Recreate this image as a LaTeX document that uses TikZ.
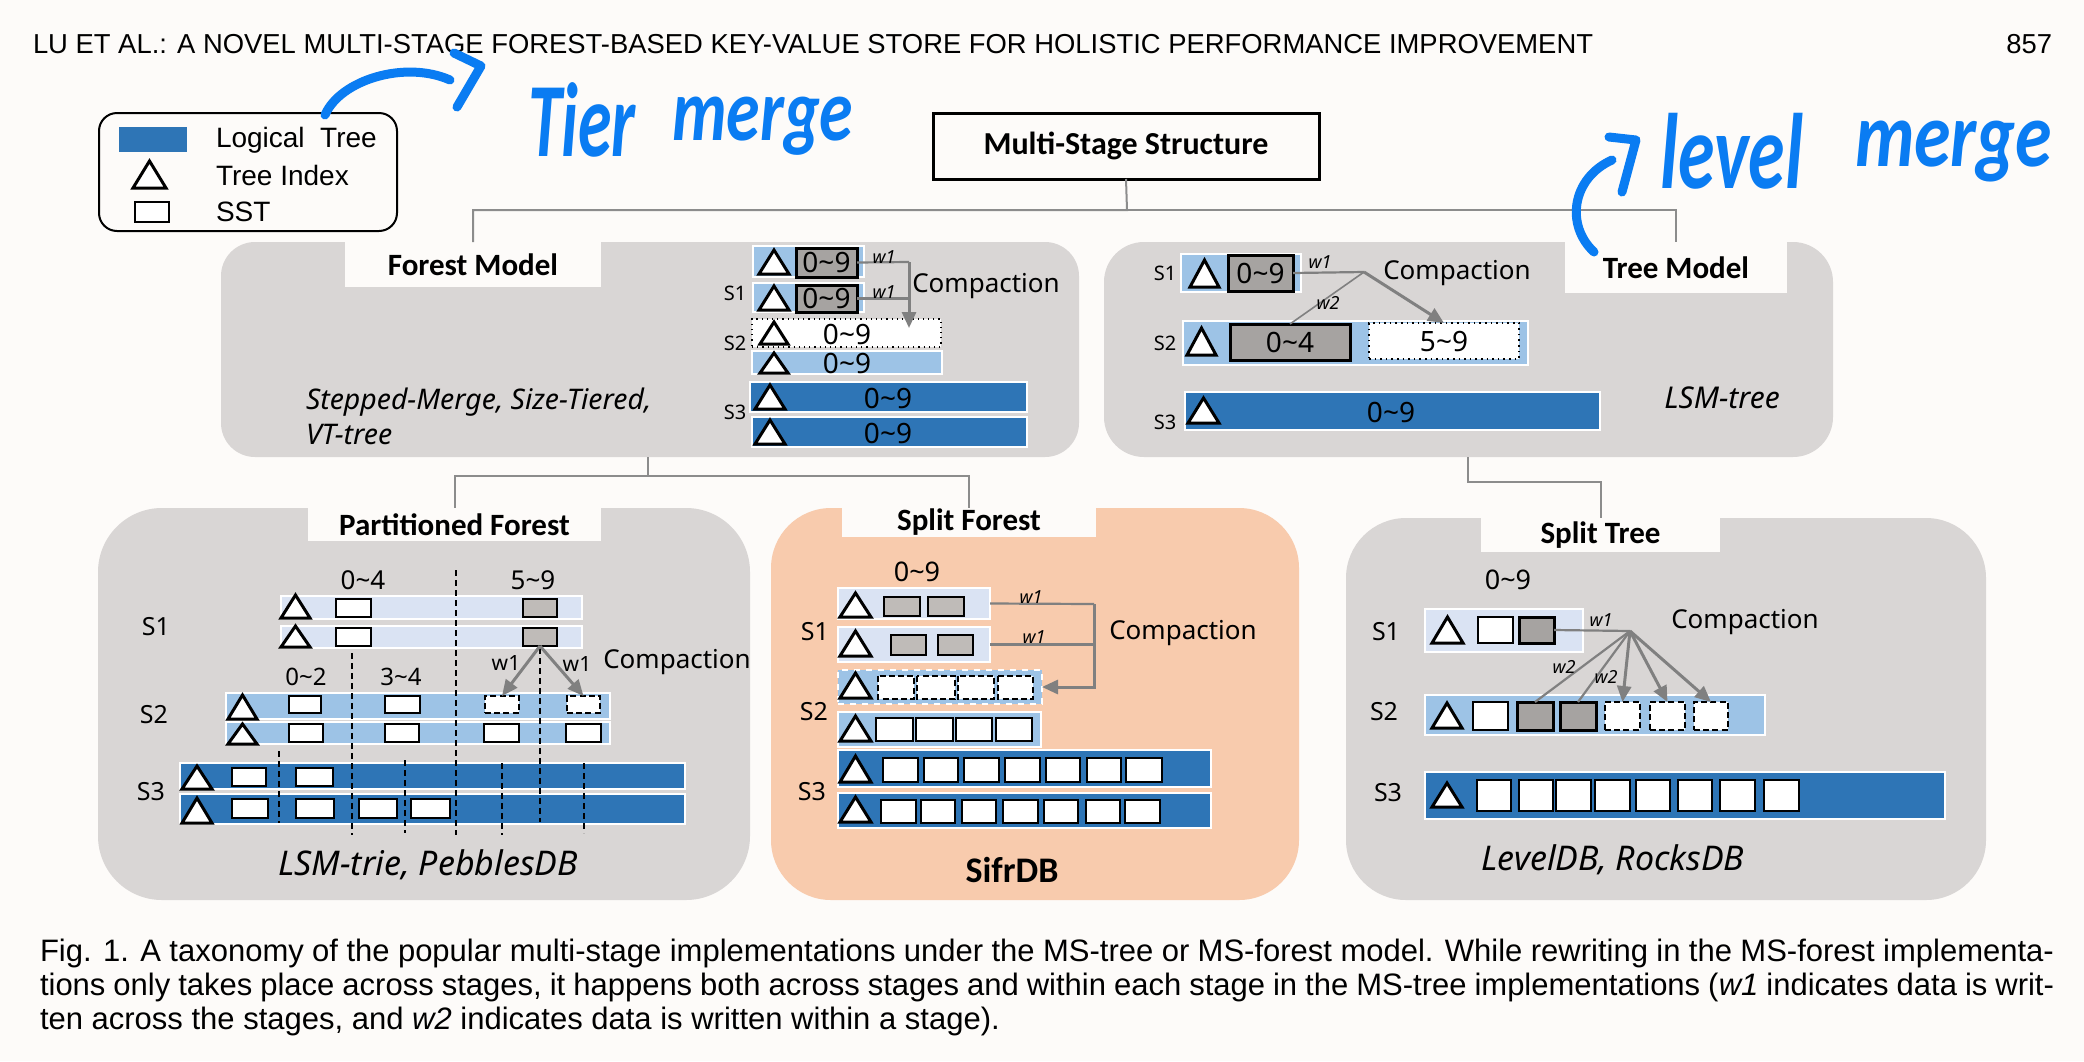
\documentclass[tikz,border=0pt]{standalone}
\usepackage{fontspec}
\usetikzlibrary{arrows.meta}
\setmainfont{Noto Sans}
\newfontfamily\ttlfont{Carlito}
\newfontfamily\hdrfont{Liberation Sans}
\newfontfamily\capfont{Liberation Sans}
\newcommand\setfs[1]{\fontsize{#1pt}{#1pt}\selectfont}
\newcommand\rng[2]{#1\textasciitilde#2}
\definecolor{pagebg}{HTML}{FDFBF9}
\definecolor{panelc}{HTML}{D9D6D5}
\definecolor{peach}{HTML}{F8CBAD}
\definecolor{blueL}{HTML}{DAE3F3}
\definecolor{blueM}{HTML}{9DC3E6}
\definecolor{blueD}{HTML}{2E75B6}
\definecolor{grayA}{HTML}{A6A3A1}
\definecolor{grayB}{HTML}{BFBBB8}
\definecolor{conncol}{HTML}{8C8C8C}
\definecolor{arrc}{HTML}{808080}
\definecolor{hand}{HTML}{0A7CF2}
\newcommand\rbox[5]{\draw[#1] (#2,#3) rectangle (#4,#5);}
\newcommand\tri[4]{\draw[trist] (#1,#2) -- ({(#1+#3)/2},#4) -- (#3,#2) -- cycle;}
\newcommand\bx[7]{\node[nbox,#1,minimum width={(#4-#2)*0.5pt},minimum height={(#5-#3)*0.5pt}] (#6) at ({(#2+#4)/2},{(#3+#5)/2}) {#7};}
\tikzset{
  nbox/.style={inner sep=0pt,outer sep=0pt},
  panelst/.style={fill=panelc,draw=none},
  labelst/.style={fill=pagebg,draw=none,font=\ttlfont\bfseries\setfs{15.5}},
  barL/.style={fill=blueL,draw=white,line width=1.2pt},
  barM/.style={fill=blueM,draw=white,line width=1.2pt},
  barD/.style={fill=blueD,draw=white,line width=1.2pt},
  trist/.style={draw=black,fill=white,line width=1.5pt,line join=miter},
  sstW/.style={draw=black,fill=white,line width=1.4pt},
  sstG/.style={draw=black,fill=grayA,line width=1.5pt},
  sstGB/.style={draw=black,fill=grayB,line width=1.4pt},
  sstD/.style={draw=black,fill=white,line width=1.4pt,dash pattern=on 3pt off 1.6pt},
  conn/.style={draw=conncol,line width=1pt},
  gline/.style={draw=arrc,line width=1.1pt},
  arr/.style={draw=arrc,line width=1.5pt,-{Triangle[length=8pt,width=7pt]}},
  lbl/.style={inner sep=0pt,outer sep=0pt},
  sta/.style={lbl,font=\setfs{10}},
  stb/.style={lbl,font=\setfs{12.5}},
  num/.style={lbl,font=\setfs{14}},
  numb/.style={lbl,font=\setfs{13}},
  wlab/.style={lbl,font=\itshape\setfs{9}},
  comp/.style={lbl,font=\setfs{13}},
  impl/.style={lbl,font=\itshape\setfs{17}},
  pdash/.style={draw=black,line width=0.6pt,dash pattern=on 3pt off 2pt},
  handst/.style={draw=hand,line width=4.5pt,line cap=round,line join=round},
  handtx/.style={lbl,anchor=base west,text=hand,font=\ttlfont\bfseries\itshape\setfs{34}},
  legtx/.style={lbl,anchor=west,font=\hdrfont\setfs{14}},
  captx/.style={lbl,anchor=base west,font=\capfont\setfs{15.5}}
}
\begin{document}
\begin{tikzpicture}[x=0.5pt,y=-0.5pt]
\fill[pagebg] (0,0) rectangle (2084,1061);
\useasboundingbox (0,0) rectangle (2084,1061);

% header
\node[lbl,anchor=base west,font=\hdrfont\setfs{13.7}] (hdr) at (33,53) {LU ET AL.: A NOVEL MULTI-STAGE FOREST-BASED KEY-VALUE STORE FOR HOLISTIC PERFORMANCE IMPROVEMENT};
\node[lbl,anchor=base east,font=\hdrfont\setfs{13.7}] (pg) at (2052,53) {857};

% legend
\bx{draw=black,line width=1pt,rounded corners=9pt,fill=pagebg}{99}{113}{397}{231}{leg}{}
\rbox{fill=blueD,draw=none}{119}{127}{187}{152}
\node[legtx] (l1) at (216,140) {Logical\ \ Tree};
\tri{133}{188}{166}{161}
\node[legtx] (l2) at (216,175) {Tree Index};
\rbox{sstW}{135}{202}{169}{222}
\node[legtx] (l3) at (216,212) {SST};

% root
\bx{draw=black,line width=1.5pt,fill=pagebg,font=\ttlfont\bfseries\setfs{16}}{933}{113}{1319}{179}{ms}{Multi-Stage Structure}

% panels
\bx{panelst,rounded corners=17pt}{221}{242}{1079}{457}{fm}{}
\bx{labelst}{345}{242}{601}{287}{fmlab}{Forest Model}
\bx{panelst,rounded corners=20pt}{1104}{242}{1833}{457}{tm}{}
\bx{labelst}{1565}{242}{1787}{293}{tmlab}{Tree Model}
\bx{panelst,rounded corners=32pt}{98}{508}{750}{900}{pf}{}
\bx{labelst}{308}{508}{601}{541}{pflab}{Partitioned Forest}
\bx{fill=peach,rounded corners=30pt}{771}{508}{1299}{900}{sf}{}
\bx{labelst}{842}{508}{1096}{537}{sflab}{Split Forest}
\bx{panelst,rounded corners=30pt}{1346}{518}{1986}{900}{st}{}
\bx{labelst}{1481}{518}{1720}{552}{stlab}{Split Tree}

% tree connectors
\coordinate (msj) at (1127,210);
\draw[conn] (ms.south) -- (msj) -| (fmlab.north);
\draw[conn] (msj) -| (tmlab.north);
\coordinate (fmb) at (648,457);
\draw[conn] (fmb) -- ++(0,19) coordinate (fmj) -| (pflab.north);
\draw[conn] (fmj) -| (sflab.north);
\coordinate (tmb) at (1468,457);
\draw[conn] (tmb) -- ++(0,25) -| (stlab.north);

% ---------- Forest Model ----------
\rbox{barM}{753}{246}{864}{277}
\tri{759}{274}{789}{250}
\bx{sstG,font=\setfs{14}}{796}{248}{857}{277}{fs1a}{\rng09}
\rbox{barM}{753}{283}{864}{312}
\tri{759}{310}{789}{286}
\bx{sstG,font=\setfs{14}}{796}{285}{857}{312}{fs1b}{\rng09}
\node[sta] (fS1) at (735,293) {S1};
\bx{fill=white,draw=black,line width=0.6pt,dotted}{752}{319}{941}{347}{fs2a}{}
\tri{760}{344}{788}{322}
\node[num] (fs2at) at (847,334) {\rng09};
\rbox{barM}{752}{351}{942}{374}
\tri{760}{373}{788}{353}
\node[num] (fs2bt) at (847,363) {\rng09};
\node[sta] (fS2) at (735,343) {S2};
\rbox{barD}{750}{382}{1027}{412}
\tri{755}{409}{785}{385}
\node[num] (fs3at) at (888,398) {\rng09};
\rbox{barD}{752}{417}{1027}{447}
\tri{755}{444}{785}{420}
\node[num] (fs3bt) at (888,433) {\rng09};
\node[sta] (fS3) at (735,412) {S3};
\coordinate (fj) at (909,262);
\coordinate (fa) at (909,328);
\draw[gline] (fs1a.east) -- (fj);
\draw[gline] (fs1b.east) -- (fs1b.east -| fj);
\draw[arr] (fj) -- (fa);
\node[wlab] (fw1a) at (884,257) {w1};
\node[wlab] (fw1b) at (884,292) {w1};
\node[comp] (fcomp) at (986,286) {Compaction};
\node[lbl,anchor=west,font=\itshape\setfs{14.2}] (fimp1) at (306,402) {Stepped-Merge, Size-Tiered,};
\node[lbl,anchor=west,font=\itshape\setfs{14.2}] (fimp2) at (306,434) {VT-tree};

% ---------- Tree Model ----------
\rbox{barM}{1181}{254}{1301}{292}
\tri{1190}{287}{1219}{260}
\bx{sstG,font=\setfs{14}}{1228}{255}{1293}{291}{ts1}{\rng09}
\node[sta] (tS1) at (1165,273) {S1};
\rbox{barM}{1183}{321}{1528}{365}
\tri{1187}{355}{1216}{328}
\bx{sstG,font=\setfs{14}}{1230}{324}{1350}{360}{ts2a}{\rng04}
\bx{fill=white,draw=black,line width=0.8pt,dotted,font=\setfs{14}}{1369}{323}{1519}{359}{ts2b}{\rng59}
\node[sta] (tS2) at (1165,343) {S2};
\rbox{barD}{1185}{392}{1600}{430}
\tri{1188}{423}{1219}{398}
\node[num] (ts3t) at (1391,412) {\rng09};
\node[sta] (tS3) at (1165,422) {S3};
\coordinate (tj) at (1364,272);
\draw[gline] (ts1.east) -- (tj);
\draw[gline,line width=0.8pt] (tj) -- (ts2a.north);
\draw[arr] (tj) -- (ts2b.north);
\node[wlab] (tw1) at (1320,262) {w1};
\node[wlab] (tw2) at (1328,303) {w2};
\node[comp] (tcomp) at (1457,273) {Compaction};
\node[lbl,font=\itshape\setfs{15}] (timp) at (1722,398) {LSM-tree};

% ---------- Partitioned Forest ----------
\node[numb] (p04) at (363,580) {\rng04};
\node[numb] (p59) at (533,580) {\rng59};
\rbox{barL}{281}{596}{582}{619}
\rbox{barL}{281}{626}{582}{648}
\rbox{barM}{226}{693}{610}{719}
\rbox{barM}{226}{722}{610}{744}
\rbox{barD}{180}{763}{685}{789}
\rbox{barD}{180}{794}{685}{824}
\draw[pdash] (456,570) -- (456,835);
\draw[pdash] (352,653) -- (352,835);
\draw[pdash] (540,648) -- (540,822);
\draw[pdash] (279,751) -- (279,823);
\draw[pdash] (405,760) -- (405,833);
\draw[pdash] (502,763) -- (502,835);
\draw[pdash] (584,763) -- (584,833);
\tri{281}{618}{310}{595}
\rbox{sstW}{336}{599}{371}{617}
\bx{sstGB}{523}{599}{557}{617}{p1a}{}
\tri{281}{647}{310}{626}
\rbox{sstW}{336}{628}{371}{646}
\bx{sstGB}{523}{628}{557}{646}{p1b}{}
\node[stb] (pS1) at (156,627) {S1};
\node[numb,font=\setfs{12}] (p02) at (306,677) {\rng02};
\node[numb,font=\setfs{12}] (p34) at (401,677) {\rng34};
\tri{228}{719}{257}{695}
\rbox{sstW}{289}{696}{321}{713}
\rbox{sstW}{385}{696}{420}{713}
\bx{sstD}{485}{696}{519}{713}{p2a3}{}
\bx{sstD}{567}{696}{600}{713}{p2a4}{}
\tri{228}{744}{257}{724}
\rbox{sstW}{289}{724}{323}{742}
\rbox{sstW}{385}{724}{419}{742}
\rbox{sstW}{484}{724}{519}{742}
\rbox{sstW}{566}{724}{601}{742}
\node[stb] (pS2) at (154,715) {S2};
\tri{182}{789}{212}{766}
\rbox{sstW}{232}{768}{266}{786}
\rbox{sstW}{296}{768}{333}{786}
\tri{182}{823}{212}{798}
\rbox{sstW}{232}{799}{268}{818}
\rbox{sstW}{296}{799}{334}{818}
\rbox{sstW}{359}{799}{397}{818}
\rbox{sstW}{411}{799}{450}{818}
\node[stb] (pS3) at (151,792) {S3};
\draw[arr] (p1b.south) -- (p2a3.north);
\draw[arr] (p1b.south) -- (p2a4.north);
\node[lbl,font=\setfs{10.5}] (pw1a) at (506,663) {w1};
\node[lbl,font=\setfs{10.5}] (pw1b) at (577,664) {w1};
\node[comp] (pcomp) at (677,662) {Compaction};
\node[impl] (pimp) at (428,865) {LSM-trie, PebblesDB};

% ---------- Split Forest ----------
\node[numb,font=\setfs{13.5}] (s09) at (917,572) {\rng09};
\bx{barL}{838}{588}{990}{619}{sfb1}{}
\tri{840}{617}{871}{593}
\rbox{sstGB}{884}{597}{920}{616}
\rbox{sstGB}{928}{597}{964}{616}
\bx{barL}{838}{627}{990}{662}{sfb2}{}
\tri{840}{656}{871}{631}
\rbox{sstGB}{891}{635}{926}{655}
\rbox{sstGB}{938}{635}{973}{655}
\node[stb] (sS1) at (815,632) {S1};
\bx{fill=blueM,draw=white,line width=1pt,dashed}{838}{670}{1042}{704}{sfb3}{}
\tri{840}{698}{871}{673}
\rbox{sstD}{878}{676}{914}{699}
\rbox{sstD}{917}{676}{955}{699}
\rbox{sstD}{958}{676}{994}{699}
\rbox{sstD}{998}{676}{1033}{699}
\rbox{barM}{838}{712}{1041}{747}
\tri{840}{741}{871}{716}
\rbox{sstW}{876}{718}{913}{741}
\rbox{sstW}{916}{718}{953}{741}
\rbox{sstW}{956}{718}{992}{741}
\rbox{sstW}{996}{718}{1032}{741}
\node[stb] (sS2) at (814,712) {S2};
\rbox{barD}{838}{750}{1211}{787}
\tri{840}{782}{871}{756}
\foreach \a/\b in {883/918,924/958,964/999,1005/1040,1046/1080,1087/1121,1126/1162} {\rbox{sstW}{\a}{758}{\b}{782}}
\rbox{barD}{838}{793}{1211}{828}
\tri{840}{822}{871}{797}
\foreach \a/\b in {881/916,921/955,962/996,1003/1038,1044/1078,1086/1120,1125/1160} {\rbox{sstW}{\a}{800}{\b}{823}}
\node[stb] (sS3) at (812,792) {S3};
\coordinate (sfj) at (1094,604);
\draw[gline] (sfb1.east) -- (sfj);
\draw[gline] (sfb2.east) -- (sfb2.east -| sfj);
\draw[arr] (sfj) |- (sfb3.east);
\node[wlab] (sw1a) at (1031,597) {w1};
\node[wlab] (sw1b) at (1034,637) {w1};
\node[comp] (scomp) at (1183,633) {Compaction};
\node[lbl,font=\ttlfont\bfseries\setfs{18}] (simp) at (1012,870) {SifrDB};

% ---------- Split Tree ----------
\node[numb,font=\setfs{13.5}] (t09) at (1508,580) {\rng09};
\rbox{barL}{1425}{609}{1583}{652}
\tri{1432}{643}{1463}{617}
\rbox{sstW}{1478}{617}{1513}{643}
\bx{sstG}{1519}{617}{1554}{643}{ts1g}{}
\node[stb] (uS1) at (1386,632) {S1};
\rbox{barM}{1425}{695}{1765}{735}
\tri{1432}{728}{1462}{703}
\rbox{sstW}{1473}{702}{1508}{730}
\bx{sstG}{1517}{702}{1553}{730}{stg1}{}
\bx{sstG}{1560}{702}{1596}{730}{stg2}{}
\bx{sstD}{1605}{702}{1640}{730}{std1}{}
\bx{sstD}{1650}{702}{1685}{730}{std2}{}
\bx{sstD}{1694}{702}{1728}{730}{std3}{}
\node[stb] (uS2) at (1384,712) {S2};
\rbox{barD}{1425}{772}{1945}{819}
\tri{1432}{807}{1462}{783}
\foreach \a/\b in {1477/1511,1519/1553,1556/1591,1595/1630,1636/1670,1678/1712,1720/1755,1764/1799} {\rbox{sstW}{\a}{780}{\b}{811}}
\node[stb] (uS3) at (1388,793) {S3};
\coordinate (stj) at (1630,631);
\draw[gline] (ts1g.east) -- (stj);
\draw[gline] (stj) -- (stg1.north);
\draw[gline] (stj) -- (stg2.north);
\draw[arr] (stj) -- (std1.north);
\draw[arr] (stj) -- (std2.north);
\draw[arr] (stj) -- (std3.north);
\node[wlab] (uw1) at (1601,620) {w1};
\node[wlab] (uw2a) at (1564,667) {w2};
\node[wlab] (uw2b) at (1606,677) {w2};
\node[comp] (ucomp) at (1745,622) {Compaction};
\node[impl] (uimp) at (1613,860) {LevelDB, RocksDB};

% ---------- handwriting ----------
\node[handtx] (hw1) at (528,156) {\scalebox{1}[1.55]{Tier}};
\node[handtx] (hw2) at (672,140) {\scalebox{1}[1.3]{merge}};
\node[handtx,font=\ttlfont\bfseries\itshape\setfs{37}] (hw3) at (1660,188) {\scalebox{1}[1.45]{level}};
\node[handtx,font=\ttlfont\bfseries\itshape\setfs{37}] (hw4) at (1855,166) {\scalebox{1}[1.25]{merge}};
\draw[handst] (325,115) .. controls (340,80) and (405,60) .. (450,80);
\draw[handst] (454,53) -- (481,66) -- (457,107);
\draw[handst] (1594,252) .. controls (1565,225) and (1572,178) .. (1612,160);
\draw[handst] (1609,137) -- (1636,140) -- (1622,192);

% ---------- caption ----------
\node[captx] (cap1) at (40,961) {\makebox[1007pt][s]{Fig. 1. A taxonomy of the popular multi-stage implementations under the MS-tree or MS-forest model. While rewriting in the MS-forest implementa-}};
\node[captx] (cap2) at (40,995) {\makebox[1007pt][s]{tions only takes place across stages, it happens both across stages and within each stage in the MS-tree implementations (\textit{w1} indicates data is writ-}};
\node[captx] (cap3) at (40,1029) {ten across the stages, and \textit{w2} indicates data is written within a stage).};
\end{tikzpicture}
\end{document}
